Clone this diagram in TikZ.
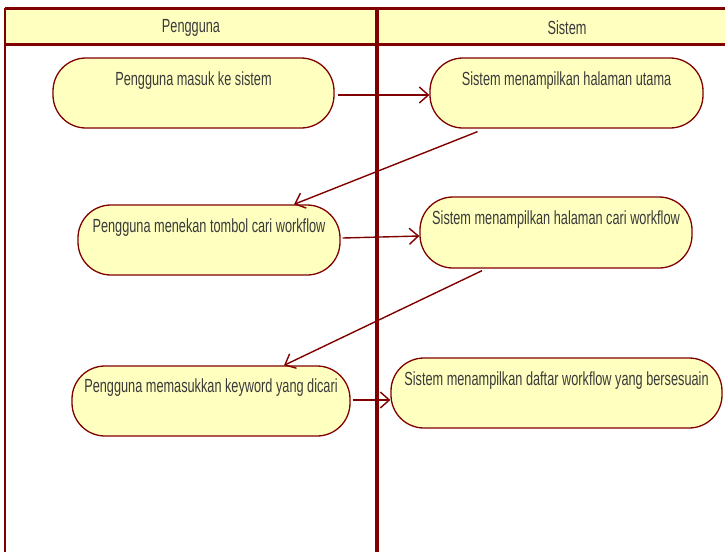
\documentclass[tikz,border=0pt]{standalone}
\usepackage{fontspec}
\setmainfont[FakeStretch=0.67]{Liberation Sans}
\usetikzlibrary{arrows.meta}
\definecolor{lane}{HTML}{800000}
\definecolor{actfill}{HTML}{FFFFC0}
\definecolor{txt}{HTML}{3A3A3A}

\begin{document}
\begin{tikzpicture}[x=1pt,y=-1pt,
  act/.style={draw=lane, line width=1.3pt, fill=actfill, rounded corners=33pt, inner sep=0pt},
  acttext/.style={anchor=base, text=txt, font=\fontsize{19}{22}\selectfont, inner sep=0pt},
  lanehead/.style={text=txt, font=\fontsize{19}{22}\selectfont, inner sep=0pt},
  flow/.style={draw=lane, line width=1.4pt, -{Straight Barb[length=9pt,width=16pt,line width=1.4pt]}}]
\useasboundingbox (0,0) rectangle (725,552);

% swimlane header band and lane borders
\fill[actfill] (5,8) rectangle (725,44);
\draw[lane, line width=3pt] (5,8) -- (725,8);
\draw[lane, line width=3pt] (5,44) -- (725,44);
\draw[lane, line width=2.5pt] (5,8) -- (5,552);
\draw[lane, line width=3.5pt] (377,8) -- (377,552);
\node[lanehead] (h1) at (191,28) {Pengguna};
\node[lanehead] (h2) at (567,28) {Sistem};

% activities
\node[act, minimum width=281pt, minimum height=70pt] (n1) at (193.5,93) {};
\node[act, minimum width=273pt, minimum height=70pt] (n2) at (566.5,93) {};
\node[act, minimum width=262pt, minimum height=70pt] (n3) at (209,240) {};
\node[act, minimum width=272pt, minimum height=71pt] (n4) at (556,232.5) {};
\node[act, minimum width=278pt, minimum height=70pt] (n5) at (211,401) {};
\node[act, minimum width=331pt, minimum height=70pt] (n6) at (556.5,393) {};

\node[acttext] (t1) at ([yshift=-28pt]n1.north) {Pengguna masuk ke sistem};
\node[acttext] (t2) at ([yshift=-28pt]n2.north) {Sistem menampilkan halaman utama};
\node[acttext] (t3) at ([yshift=-28pt]n3.north) {Pengguna menekan tombol cari workflow};
\node[acttext] (t4) at ([yshift=-28pt]n4.north) {Sistem menampilkan halaman cari workflow};
\node[acttext] (t5) at ([yshift=-27pt]n5.north) {Pengguna memasukkan keyword yang dicari};
\node[acttext] (t6) at ([yshift=-28pt]n6.north) {Sistem menampilkan daftar workflow yang bersesuain};

% control flow
\draw[flow] ([xshift=3pt,yshift=-2pt]n1.east) -- ([yshift=-2pt]n2.west);
\draw[flow] ([xshift=-89pt,yshift=-3pt]n2.south) -- ([xshift=85pt]n3.north);
\draw[flow] ([xshift=2pt,yshift=2pt]n3.east) -- ([yshift=-3.5pt]n4.west);
\draw[flow] ([xshift=-74pt,yshift=-2pt]n4.south) -- ([xshift=73pt]n5.north);
\draw[flow] ([xshift=2pt,yshift=1pt]n5.east) -- ([yshift=-7pt]n6.west);
\end{tikzpicture}
\end{document}
